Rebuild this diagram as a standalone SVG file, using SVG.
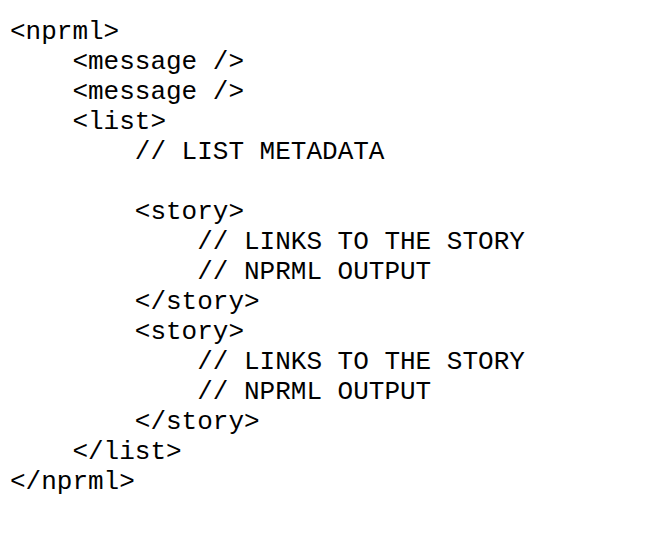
<svg xmlns="http://www.w3.org/2000/svg" width="656" height="533" viewBox="0 0 656 533">
<style>
text { font-family: "Liberation Mono", "DejaVu Sans Mono", monospace; font-size: 26px; fill: #000; }
</style>
<rect width="656" height="533" fill="#fff"/>
<g id="code">
<text x="10" y="39">&lt;nprml&gt;</text>
<text x="72.4" y="69">&lt;message /&gt;</text>
<text x="72.4" y="99">&lt;message /&gt;</text>
<text x="72.4" y="129">&lt;list&gt;</text>
<text x="134.8" y="159">// LIST METADATA</text>
<text x="134.8" y="219">&lt;story&gt;</text>
<text x="197.2" y="249">// LINKS TO THE STORY</text>
<text x="197.2" y="279">// NPRML OUTPUT</text>
<text x="134.8" y="309">&lt;/story&gt;</text>
<text x="134.8" y="339">&lt;story&gt;</text>
<text x="197.2" y="369">// LINKS TO THE STORY</text>
<text x="197.2" y="399">// NPRML OUTPUT</text>
<text x="134.8" y="429">&lt;/story&gt;</text>
<text x="72.4" y="459">&lt;/list&gt;</text>
<text x="10" y="489">&lt;/nprml&gt;</text>
</g>
</svg>
